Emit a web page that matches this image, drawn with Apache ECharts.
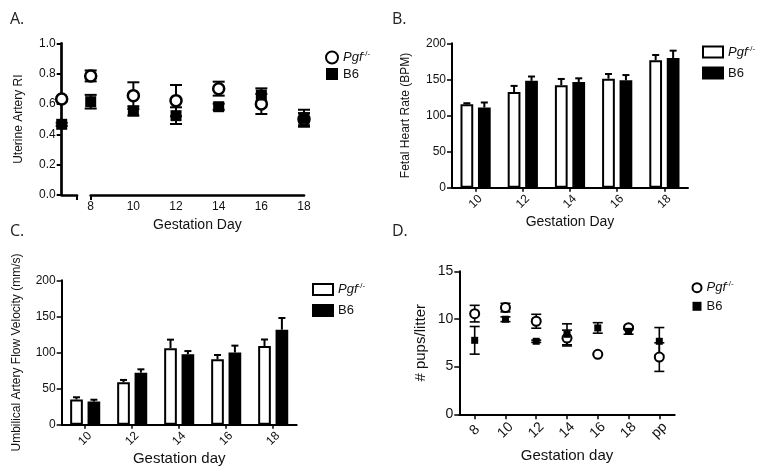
<!DOCTYPE html>
<html><head><meta charset="utf-8">
<script src="https://cdn.jsdelivr.net/npm/echarts@6/dist/echarts.min.js"></script>
<style>html,body{margin:0;padding:0;background:#fff}#c{width:764px;height:475px}</style>
</head><body><div id="c"></div>
<script>
// ---------- Panel A: Uterine Artery RI ----------
const aDays = [8, 10, 12, 14, 16, 18];
const aPgfBaseline = [0.633, 0.01];   // [mean, sem] at non-pregnant baseline
const aB6Baseline  = [0.466, 0.01];
const aPgfMean = [0.785, 0.655, 0.622, 0.701, 0.600, 0.500];
const aPgfSem  = [0.036, 0.088, 0.103, 0.046, 0.066, 0.040];
const aB6Mean  = [0.615, 0.554, 0.523, 0.582, 0.659, 0.506];
const aB6Sem   = [0.045, 0.030, 0.055, 0.020, 0.044, 0.056];

// ---------- Panel B: Fetal Heart Rate ----------
const bDays = ['10', '12', '14', '16', '18'];
const bPgfMean = [115.5, 132.6, 142.0, 151.0, 176.4];
const bPgfSem  = [1.5, 8.4, 8.6, 6.5, 7.4];
const bB6Mean  = [111.0, 148.0, 146.4, 148.7, 179.7];
const bB6Sem   = [7.0, 6.0, 5.1, 7.3, 10.1];

// ---------- Panel C: Umbilical Artery Flow Velocity ----------
const cDays = ['10', '12', '14', '16', '18'];
const cPgfMean = [35.0, 58.7, 106.0, 90.5, 109.0];
const cPgfSem  = [3.0, 3.3, 11.8, 6.0, 9.0];
const cB6Mean  = [32.0, 72.0, 97.5, 100.0, 131.6];
const cB6Sem   = [2.6, 4.7, 4.5, 9.5, 16.2];

// ---------- Panel D: pups per litter ----------
const dDays = ['8', '10', '12', '14', '16', '18', 'pp'];
const dPgfMean = [10.56, 11.19, 9.76, 8.00, 6.29, 9.09, 6.00];
const dPgfSem  = [0.87, 0.45, 0.73, 0.83, 0.10, 0.15, 1.50];
const dB6Mean  = [7.76, 9.97, 7.66, 8.39, 9.06, 8.70, 7.66];
const dB6Sem   = [1.45, 0.25, 0.12, 1.10, 0.55, 0.30, 1.44];

const BAR_W = 0.27, BAR_GAP = 0.37;
const FONT = '"Liberation Sans", Arial, sans-serif';
const INK = '#111';

function errRender(side, upperOnly, capW, lw) {
  return function (params, api) {
    const x = api.value(0), m = api.value(1), e = api.value(2);
    const top = api.coord([x, m + e]);
    const bot = api.coord([x, upperOnly ? m : m - e]);
    let dx = 0;
    if (side) dx = side * api.size([1, 0])[0] * BAR_W * (1 + BAR_GAP) / 2;
    const cx = top[0] + dx;
    const st = { stroke: '#000', lineWidth: lw };
    const ch = [
      { type: 'line', shape: { x1: cx, y1: top[1], x2: cx, y2: bot[1] }, style: st },
      { type: 'line', shape: { x1: cx - capW / 2, y1: top[1], x2: cx + capW / 2, y2: top[1] }, style: st }
    ];
    if (!upperOnly) ch.push({ type: 'line', shape: { x1: cx - capW / 2, y1: bot[1], x2: cx + capW / 2, y2: bot[1] }, style: st });
    return { type: 'group', children: ch };
  };
}
function triples(xs, means, sems) { return means.map((m, i) => [xs[i], m, sems[i]]); }
function idxTriples(means, sems) { return means.map((m, i) => [i, m, sems[i]]); }

function legendFmt(name) { return name.indexOf('Pgf') === 0 ? '{i|Pgf}{s|-/-}' : 'B6'; }
function legendRich(fs) {
  return { i: { fontStyle: 'italic', fontSize: fs, fontFamily: FONT, color: INK, lineHeight: fs + 2 },
           s: { fontSize: Math.round(fs * 0.62), fontFamily: FONT, color: INK, verticalAlign: 'top', lineHeight: Math.round(fs * 0.62) } };
}

const axisLineStyle = (w) => ({ show: true, onZero: false, lineStyle: { color: '#000', width: w } });

const circleStyle = (w) => ({ color: '#fff', borderColor: '#000', borderWidth: w, opacity: 1 });
const squareStyle = { color: '#000', opacity: 1 };
const titleStyle = { fontFamily: '"Open Sans", sans-serif', fontSize: 16, fontWeight: 'normal', color: '#222' };
const rotLabel = (fs, margin) => ({ rotate: 45, align: 'center', verticalAlign: 'middle', fontSize: fs, color: INK, margin: margin });

const option = {
  animation: false,
  backgroundColor: '#fff',
  textStyle: { fontFamily: FONT, color: INK },
  title: [
    { text: 'A.', left: 5, top: 6, textStyle: titleStyle },
    { text: 'B.', left: 387, top: 6, textStyle: titleStyle },
    { text: 'C.', left: 5, top: 218, textStyle: titleStyle },
    { text: 'D.', left: 387, top: 218, textStyle: titleStyle }
  ],
  legend: [
    { orient: 'vertical', left: 325, top: 50, padding: 0, itemWidth: 12, itemHeight: 12, itemGap: 3, selectedMode: false,
      data: ['Pgf A', 'B6 A'], formatter: legendFmt, textStyle: { fontSize: 13, color: INK, rich: legendRich(13) } },
    { orient: 'vertical', left: 702, top: 44.5, padding: 0, icon: 'rect', itemWidth: 20, itemHeight: 11, itemGap: 8, selectedMode: false,
      data: ['Pgf B', 'B6 B'], formatter: legendFmt, textStyle: { fontSize: 13, color: INK, rich: legendRich(13) } },
    { orient: 'vertical', left: 312, top: 282, padding: 0, icon: 'rect', itemWidth: 20, itemHeight: 11, itemGap: 8, selectedMode: false,
      data: ['Pgf C', 'B6 C'], formatter: legendFmt, textStyle: { fontSize: 13, color: INK, rich: legendRich(13) } },
    { orient: 'vertical', left: 691.5, top: 280.2, padding: 0, itemWidth: 9, itemHeight: 9, itemGap: 5.6, selectedMode: false,
      data: ['Pgf D', 'B6 D'], formatter: legendFmt, textStyle: { fontSize: 13, color: INK, rich: legendRich(13) } }
  ],
  grid: [
    { left: 61.7, top: 43.3, width: 15.3, height: 151.7 },
    { left: 90.7, top: 43.3, width: 213.3, height: 151.7 },
    { left: 452, top: 43.3, width: 236, height: 144.4 },
    { left: 61.7, top: 280.3, width: 235, height: 144.4 },
    { left: 459.3, top: 271.3, width: 215.4, height: 143 }
  ],
  xAxis: [
    { gridIndex: 0, type: 'value', min: 0, max: 1, interval: 1, axisLine: axisLineStyle(2.7),
      axisTick: { show: true, customValues: [1], length: 5, lineStyle: { color: '#000', width: 2 } },
      axisLabel: { show: false }, splitLine: { show: false } },
    { gridIndex: 1, type: 'value', min: 8, max: 18, interval: 2, axisLine: axisLineStyle(2.7),
      axisTick: { show: true, customValues: [8], length: 5, lineStyle: { color: '#000', width: 2 } },
      axisLabel: { fontSize: 12, color: INK, margin: 6 }, splitLine: { show: false },
      name: 'Gestation Day', nameLocation: 'middle', nameGap: 23, nameTextStyle: { fontSize: 14, color: INK } },
    { gridIndex: 2, type: 'category', data: bDays, axisLine: axisLineStyle(2),
      axisTick: { show: true, alignWithLabel: true, length: 4, lineStyle: { color: '#000', width: 1.5 } },
      axisLabel: rotLabel(12, 14),
      name: 'Gestation Day', nameLocation: 'middle', nameGap: 27, nameTextStyle: { fontSize: 14, color: INK } },
    { gridIndex: 3, type: 'category', data: cDays, axisLine: axisLineStyle(2),
      axisTick: { show: true, alignWithLabel: true, length: 4, lineStyle: { color: '#000', width: 1.5 } },
      axisLabel: rotLabel(12, 14),
      name: 'Gestation day', nameLocation: 'middle', nameGap: 27, nameTextStyle: { fontSize: 15, color: INK } },
    { gridIndex: 4, type: 'category', data: dDays, axisLine: axisLineStyle(2),
      axisTick: { show: true, alignWithLabel: true, length: 5, lineStyle: { color: '#000', width: 1.5 } },
      axisLabel: rotLabel(14, 16),
      name: 'Gestation day', nameLocation: 'middle', nameGap: 34, nameTextStyle: { fontSize: 15, color: INK } }
  ],
  yAxis: [
    { gridIndex: 0, type: 'value', min: 0, max: 1, interval: 0.2, axisLine: axisLineStyle(2.7),
      axisTick: { show: true, length: 5, lineStyle: { color: '#000', width: 2 } },
      axisLabel: { fontSize: 12, color: INK, margin: 6, formatter: v => v.toFixed(1) }, splitLine: { show: false },
      name: 'Uterine Artery RI', nameLocation: 'middle', nameGap: 37, nameTextStyle: { fontSize: 12, color: INK } },
    { gridIndex: 1, type: 'value', min: 0, max: 1, show: false, splitLine: { show: false } },
    { gridIndex: 2, type: 'value', min: 0, max: 200, interval: 50, axisLine: axisLineStyle(2),
      axisTick: { show: true, length: 5, lineStyle: { color: '#000', width: 1.5 } },
      axisLabel: { fontSize: 12, color: INK, margin: 6 }, splitLine: { show: false },
      name: 'Fetal Heart Rate (BPM)', nameLocation: 'middle', nameGap: 40, nameTextStyle: { fontSize: 12, color: INK } },
    { gridIndex: 3, type: 'value', min: 0, max: 200, interval: 50, axisLine: axisLineStyle(2),
      axisTick: { show: true, length: 5, lineStyle: { color: '#000', width: 1.5 } },
      axisLabel: { fontSize: 12, color: INK, margin: 6 }, splitLine: { show: false },
      name: 'Umbilical Artery Flow Velocity (mm/s)', nameLocation: 'middle', nameGap: 39, nameTextStyle: { fontSize: 12, color: INK } },
    { gridIndex: 4, type: 'value', min: 0, max: 15, interval: 5, axisLine: axisLineStyle(2),
      axisTick: { show: true, length: 5, lineStyle: { color: '#000', width: 1.5 } },
      axisLabel: { fontSize: 14, color: INK, margin: 6 }, splitLine: { show: false },
      name: '# pups/litter', nameLocation: 'middle', nameGap: 31, nameTextStyle: { fontSize: 15, color: INK } }
  ],
  series: [
    // ----- A error bars -----
    { type: 'custom', name: 'errA0p', xAxisIndex: 0, yAxisIndex: 0, renderItem: errRender(0, false, 12, 2), data: [[0, aPgfBaseline[0], aPgfBaseline[1]]], encode: { x: 0, y: 1 }, z: 1, clip: false },
    { type: 'custom', name: 'errA0b', xAxisIndex: 0, yAxisIndex: 0, renderItem: errRender(0, false, 12, 2), data: [[0, aB6Baseline[0], aB6Baseline[1]]], encode: { x: 0, y: 1 }, z: 1, clip: false },
    { type: 'custom', name: 'errA1p', xAxisIndex: 1, yAxisIndex: 1, renderItem: errRender(0, false, 12, 2), data: triples(aDays, aPgfMean, aPgfSem), encode: { x: 0, y: 1 }, z: 1 },
    { type: 'custom', name: 'errA1b', xAxisIndex: 1, yAxisIndex: 1, renderItem: errRender(0, false, 12, 2), data: triples(aDays, aB6Mean, aB6Sem), encode: { x: 0, y: 1 }, z: 1 },
    // ----- A markers -----
    { type: 'scatter', name: 'Pgf A', xAxisIndex: 0, yAxisIndex: 0, symbol: 'circle', symbolSize: 11, itemStyle: circleStyle(2.5), data: [[0, aPgfBaseline[0]]], z: 3, clip: false },
    { type: 'scatter', name: 'Pgf A', xAxisIndex: 1, yAxisIndex: 1, symbol: 'circle', symbolSize: 11, itemStyle: circleStyle(2.5), data: aDays.map((d, i) => [d, aPgfMean[i]]), z: 3 },
    { type: 'scatter', name: 'B6 A', xAxisIndex: 0, yAxisIndex: 0, symbol: 'rect', symbolSize: 11, itemStyle: squareStyle, data: [[0, aB6Baseline[0]]], z: 4, clip: false },
    { type: 'scatter', name: 'B6 A', xAxisIndex: 1, yAxisIndex: 1, symbol: 'rect', symbolSize: 11, itemStyle: squareStyle, data: aDays.map((d, i) => [d, aB6Mean[i]]), z: 4 },
    // ----- B bars -----
    { type: 'bar', name: 'Pgf B', xAxisIndex: 2, yAxisIndex: 2, data: bPgfMean, barWidth: (BAR_W * 100) + '%', barGap: (BAR_GAP * 100) + '%',
      itemStyle: { color: '#fff', borderColor: '#000', borderWidth: 2 } },
    { type: 'bar', name: 'B6 B', xAxisIndex: 2, yAxisIndex: 2, data: bB6Mean, barWidth: (BAR_W * 100) + '%', barGap: (BAR_GAP * 100) + '%',
      itemStyle: { color: '#000', borderColor: '#000', borderWidth: 2 } },
    { type: 'custom', name: 'errBp', xAxisIndex: 2, yAxisIndex: 2, renderItem: errRender(-1, true, 7, 2), data: idxTriples(bPgfMean, bPgfSem), encode: { x: 0, y: 1 }, z: 1 },
    { type: 'custom', name: 'errBb', xAxisIndex: 2, yAxisIndex: 2, renderItem: errRender(1, true, 7, 2), data: idxTriples(bB6Mean, bB6Sem), encode: { x: 0, y: 1 }, z: 1 },
    // ----- C bars -----
    { type: 'bar', name: 'Pgf C', xAxisIndex: 3, yAxisIndex: 3, data: cPgfMean, barWidth: (BAR_W * 100) + '%', barGap: (BAR_GAP * 100) + '%',
      itemStyle: { color: '#fff', borderColor: '#000', borderWidth: 2 } },
    { type: 'bar', name: 'B6 C', xAxisIndex: 3, yAxisIndex: 3, data: cB6Mean, barWidth: (BAR_W * 100) + '%', barGap: (BAR_GAP * 100) + '%',
      itemStyle: { color: '#000', borderColor: '#000', borderWidth: 2 } },
    { type: 'custom', name: 'errCp', xAxisIndex: 3, yAxisIndex: 3, renderItem: errRender(-1, true, 7, 2), data: idxTriples(cPgfMean, cPgfSem), encode: { x: 0, y: 1 }, z: 1 },
    { type: 'custom', name: 'errCb', xAxisIndex: 3, yAxisIndex: 3, renderItem: errRender(1, true, 7, 2), data: idxTriples(cB6Mean, cB6Sem), encode: { x: 0, y: 1 }, z: 1 },
    // ----- D -----
    { type: 'custom', name: 'errDp', xAxisIndex: 4, yAxisIndex: 4, renderItem: errRender(0, false, 10, 1.6), data: idxTriples(dPgfMean, dPgfSem), encode: { x: 0, y: 1 }, z: 1 },
    { type: 'custom', name: 'errDb', xAxisIndex: 4, yAxisIndex: 4, renderItem: errRender(0, false, 10, 1.6), data: idxTriples(dB6Mean, dB6Sem), encode: { x: 0, y: 1 }, z: 1 },
    { type: 'scatter', name: 'Pgf D', xAxisIndex: 4, yAxisIndex: 4, symbol: 'circle', symbolSize: 9, itemStyle: circleStyle(2), data: dPgfMean.map((m, i) => [i, m]), z: 3 },
    { type: 'scatter', name: 'B6 D', xAxisIndex: 4, yAxisIndex: 4, symbol: 'rect', symbolSize: 7, itemStyle: squareStyle, data: dB6Mean.map((m, i) => [i, m]), z: 4 }
  ]
};
const chart = echarts.init(document.getElementById('c'), null, { renderer: 'canvas' });
chart.setOption(option);
</script></body></html>
